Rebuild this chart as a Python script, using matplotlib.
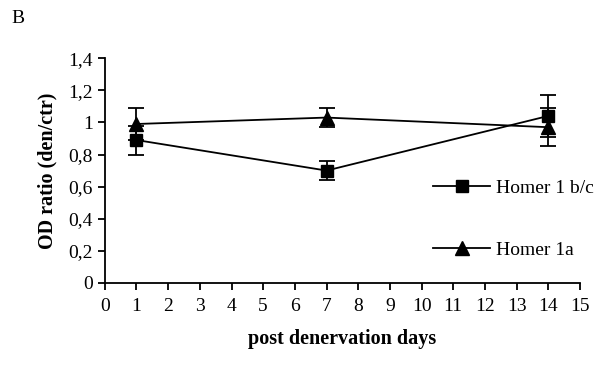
import matplotlib
matplotlib.use("Agg")
import matplotlib.pyplot as plt
from matplotlib.ticker import FuncFormatter
from matplotlib.lines import Line2D

days = [1, 7, 14]
homer_bc = [0.89, 0.70, 1.04]
homer_bc_err = [0.09, 0.06, 0.13]
homer_1a = [0.99, 1.03, 0.97]
homer_1a_err = [0.10, 0.06, 0.12]
x_ticks = list(range(0, 16))
y_ticks = [0, 0.2, 0.4, 0.6, 0.8, 1.0, 1.2, 1.4]

plt.rcParams['font.family'] = ['Liberation Serif', 'DejaVu Serif']

fig = plt.figure(figsize=(6.13, 3.68), dpi=100)
ax = fig.add_axes([0.171, 0.231, 0.775, 0.611])

ax.errorbar(days, homer_bc, yerr=homer_bc_err, color='black', marker='s', markersize=9,
            linewidth=1.3, capsize=6, capthick=1.3, elinewidth=1.3)
ax.errorbar(days, homer_1a, yerr=homer_1a_err, color='black', marker='^', markersize=10,
            linewidth=1.3, capsize=6, capthick=1.3, elinewidth=1.3)

ax.set_xlim(0, 15)
ax.set_ylim(0, 1.4)
ax.set_xticks(x_ticks)
ax.set_yticks(y_ticks)

def fmt(v, pos):
    s = f"{v:.1f}".replace('.', ',')
    if s.endswith(',0'):
        s = s[:-2]
    return s
ax.yaxis.set_major_formatter(FuncFormatter(fmt))

for sp in ['top', 'right']:
    ax.spines[sp].set_visible(False)
for sp in ['left', 'bottom']:
    ax.spines[sp].set_linewidth(1.3)
ax.tick_params(axis='both', direction='out', length=5, width=1.3, labelsize=14)
ax.tick_params(axis='x', pad=6)

ax.set_xlabel('post denervation days', fontsize=14.5, fontweight='bold', labelpad=10)
ax.set_ylabel('OD ratio (den/ctr)', fontsize=14.5, fontweight='bold', labelpad=8)

handles = [Line2D([], [], color='black', marker='s', markersize=9, linewidth=1.3),
           Line2D([], [], color='black', marker='^', markersize=10, linewidth=1.3)]
leg = ax.legend(handles, ['Homer 1 b/c', 'Homer 1a'], loc='upper left',
                bbox_to_anchor=(0.655, 0.54), frameon=False, fontsize=14,
                labelspacing=2.3, handlelength=2.9, handletextpad=0.3)

fig.text(0.018, 0.95, 'B', fontsize=14, ha='left', va='center')

fig.savefig('out.png', dpi=100)
